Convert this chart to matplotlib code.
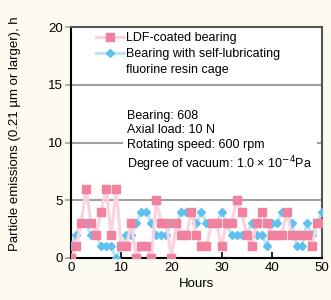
import matplotlib
matplotlib.use('Agg')
import matplotlib.pyplot as plt
from matplotlib.lines import Line2D

plt.rcParams['font.family'] = ['Liberation Sans', 'DejaVu Sans']

# Data
hours = list(range(0, 51))
ldf_coated = [0, 1, 3, 6, 3, 2, 4, 6, 2, 6,
              1, 1, 3, 0, 1, 1, 0, 5, 3, 3,
              0, 3, 2, 2, 4, 2, 1, 1, 3, 3,
              1, 3, 3, 5, 4, 2, 1, 3, 4, 3,
              2, 2, 2, 4, 2, 2, 2, 2, 1, 3, 3]
resin_cage = [1, 2, 3, 3, 2, 2, 1, 1, 1, 0,
              1, 2, 2, 3, 4, 4, 3, 2, 2, 2,
              3, 3, 4, 4, 4, 3, 4, 3, 3, 3,
              4, 3, 2, 2, 2, 2, 3, 2, 2, 1,
              3, 3, 4, 4, 3, 1, 1, 3, 2, 3, 4]
y_ticks = [0, 5, 10, 15, 20]
x_ticks = [0, 10, 20, 30, 40, 50]
legend_labels = ['LDF-coated bearing',
                 'Bearing with self-lubricating',
                 'fluorine resin cage']
conditions = ('Bearing: 608\nAxial load: 10 N\nRotating speed: 600 rpm\n'
              'Degree of vacuum: 1.0 \u00d7 10$^{-4}$Pa')

bg = '#fdfbef'
fig = plt.figure(figsize=(3.31, 3.0), dpi=100, facecolor=bg)
ax = fig.add_axes([0.2145, 0.14, 0.758, 0.77])
ax.set_facecolor('white')

# grid lines at 5, 10, 15
for y in y_ticks[1:-1]:
    ax.axhline(y, color='#a0a0a0', lw=1.5, zorder=1)

l2, = ax.plot(hours, resin_cage, color='#bfe4f7', lw=2.2, marker='D', ms=3.6,
              mfc='#5ec1ee', mec='#5ec1ee', zorder=3)
l1, = ax.plot(hours, ldf_coated, color='#fbd3de', lw=2.2, marker='s', ms=5.2,
              mfc='#f0819f', mec='#f0819f', zorder=4)
blank = Line2D([], [], color='none')

ax.set_xlim(0, 50)
ax.set_ylim(0, 20)
ax.set_xticks(x_ticks)
ax.set_yticks(y_ticks)
ax.tick_params(axis='x', direction='in', length=4, width=1.2, labelsize=9.5, pad=3)
ax.tick_params(axis='y', direction='out', length=4, width=1.2, color='#a0a0a0',
               labelsize=9.5, pad=2)

for side in ['left', 'bottom']:
    ax.spines[side].set_color('black')
    ax.spines[side].set_linewidth(1.5)
for side in ['top', 'right']:
    ax.spines[side].set_color('#555555')
    ax.spines[side].set_linewidth(1.5)

ax.set_xlabel('Hours', fontsize=9.5, labelpad=3)
ax.set_ylabel('Particle emissions (0.21 \u00b5m or larger), h', fontsize=9.5)
ax.yaxis.set_label_coords(-0.2, 0.54)

ax.legend([l1, l2, blank], legend_labels, loc='upper left',
          bbox_to_anchor=(0.06, 1.02), frameon=False, fontsize=9,
          handlelength=2.2, handletextpad=0.2, labelspacing=0.3, borderpad=0.3)

ax.text(11.2, 12.8, conditions, fontsize=9, va='top', ha='left',
        linespacing=1.25, zorder=5,
        bbox=dict(facecolor='white', edgecolor='none', pad=3))

fig.savefig('out.png', dpi=100, facecolor=bg)
